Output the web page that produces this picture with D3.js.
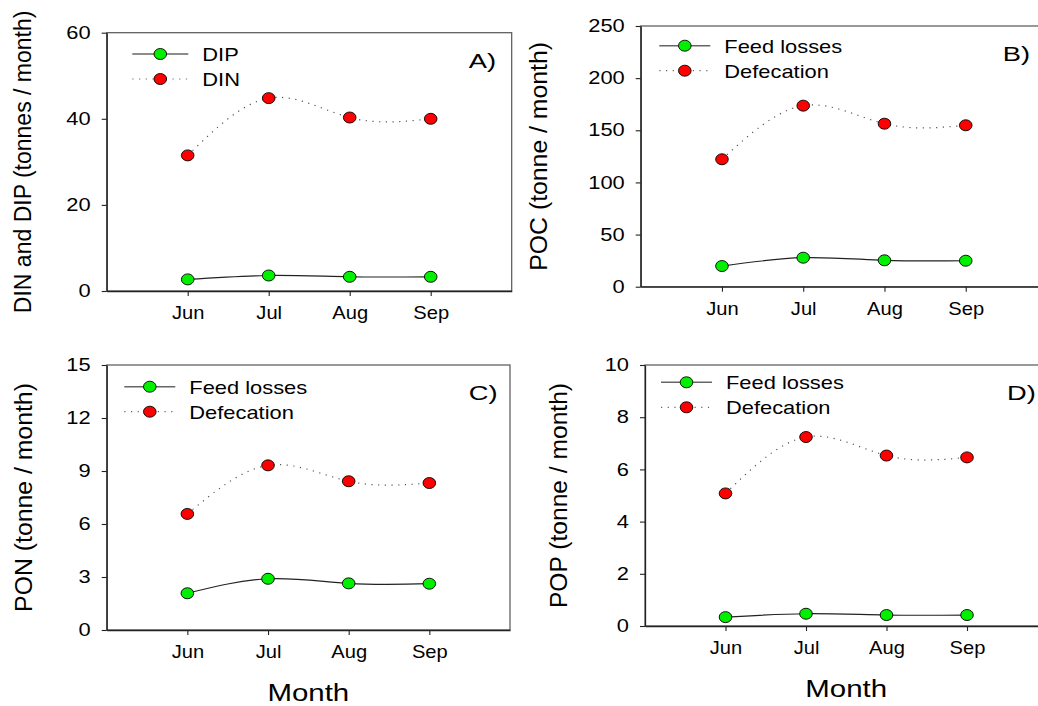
<!DOCTYPE html>
<html>
<head>
<meta charset="utf-8">
<script src="https://cdn.jsdelivr.net/npm/d3@7"></script>
<style>
  body { margin: 0; background: #fff; }
  svg { display: block; font-family: "Liberation Sans", Arial, sans-serif; }
</style>
</head>
<body>
<div id="chart"></div>
<script>
"use strict";

// data
var months = ["Jun", "Jul", "Aug", "Sep"];

var dipA = [2.7, 3.6, 3.3, 3.3];
var dinA = [31.5, 44.8, 40.3, 40.0];

var feedPOC = [19.8, 27.8, 25.3, 24.9];
var defPOC = [122.2, 173.6, 156.3, 154.8];

var feedPON = [2.08, 2.90, 2.64, 2.62];
var defPON = [6.57, 9.32, 8.42, 8.32];

var feedPOP = [0.34, 0.47, 0.42, 0.42];
var defPOP = [5.08, 7.24, 6.53, 6.46];

var ticksA = [0, 20, 40, 60];
var ticksB = [0, 50, 100, 150, 200, 250];
var ticksC = [0, 3, 6, 9, 12, 15];
var ticksD = [0, 2, 4, 6, 8, 10];

var W = 1038, H = 706;
var SX = 1.25; // the figure's text is stretched sideways

var svg = d3.select("#chart").append("svg")
    .attr("width", W)
    .attr("height", H);

var panels = [
    {left: 106.7, top: 32.7, right: 511.7, bottom: 291, max: 60, ticks: ticksA,
     s1: dipA, s2: dinA, n1: "DIP", n2: "DIN", letter: "A)",
     ylabel: "DIN and DIP (tonnes / month)", yfs: 23, ylx: 31,
     lgx: 25.6, lgy: 21.3, lgw: 56, month: false},
    {left: 640.7, top: 26, right: 1047, bottom: 286.7, max: 250, ticks: ticksB,
     s1: feedPOC, s2: defPOC, n1: "Feed losses", n2: "Defecation", letter: "B)",
     ylabel: "POC (tonne / month)", yfs: 24.8, ylx: 547,
     lgx: 18.6, lgy: 19.7, lgw: 51, month: false},
    {left: 106.7, top: 365, right: 510, bottom: 630, max: 15, ticks: ticksC,
     s1: feedPON, s2: defPON, n1: "Feed losses", n2: "Defecation", letter: "C)",
     ylabel: "PON (tonne / month)", yfs: 24.8, ylx: 32,
     lgx: 17.6, lgy: 21.7, lgw: 51, month: true},
    {left: 645, top: 365, right: 1047.5, bottom: 626, max: 10, ticks: ticksD,
     s1: feedPOP, s2: defPOP, n1: "Feed losses", n2: "Defecation", letter: "D)",
     ylabel: "POP (tonne / month)", yfs: 24.6, ylx: 567,
     lgx: 16, lgy: 17.3, lgw: 51, month: true}
];

function stretchText(sel, sx) {
    sel.each(function(){
        var t = d3.select(this);
        var x = +t.attr("x") || 0, y = +t.attr("y") || 0;
        t.attr("x", 0).attr("y", 0)
         .attr("transform", "translate(" + x + "," + y + ") scale(" + sx + ",1)");
    });
}

function marker(g, x, y, fill) {
    g.append("ellipse")
        .attr("cx", x).attr("cy", y)
        .attr("rx", 6.3).attr("ry", 5.5)
        .attr("fill", fill)
        .attr("stroke", "#000")
        .attr("stroke-width", 0.9);
}

panels.forEach(function(p){
    var g = svg.append("g");

    var x = d3.scaleLinear().domain([0, 5]).range([p.left, p.right]);
    var y = d3.scaleLinear().domain([0, p.max]).range([p.bottom, p.top]);

    // frame
    g.append("rect")
        .attr("x", p.left).attr("y", p.top)
        .attr("width", p.right - p.left).attr("height", p.bottom - p.top)
        .attr("fill", "none")
        .attr("stroke", "#555")
        .attr("stroke-width", 1.2);

    var yAxis = g.append("g")
        .attr("transform", "translate(" + p.left + ",0)")
        .call(d3.axisLeft(y).tickValues(p.ticks).tickSize(5).tickPadding(11).tickSizeOuter(0));
    yAxis.selectAll("text").attr("font-size", 17.5).attr("fill", "#000").attr("font-family", null);
    stretchText(yAxis.selectAll("text"), SX);

    var xAxis = g.append("g")
        .attr("transform", "translate(0," + p.bottom + ")")
        .call(d3.axisBottom(x).tickValues([1, 2, 3, 4]).tickSize(5).tickPadding(10.6).tickSizeOuter(0)
            .tickFormat(function(d){ return months[d - 1]; }));
    xAxis.selectAll("text").attr("font-size", 17.5).attr("fill", "#000").attr("font-family", null);
    stretchText(xAxis.selectAll("text"), 1.15);

    [yAxis, xAxis].forEach(function(a){
        a.select(".domain").attr("stroke", "#222").attr("stroke-width", 1.3);
        a.selectAll(".tick line").attr("stroke", "#222").attr("stroke-width", 1.1);
    });

    var line = d3.line()
        .x(function(d, i){ return x(i + 1); })
        .y(function(d){ return y(d); })
        .curve(d3.curveNatural);

    g.append("path")
        .attr("d", line(p.s2))
        .attr("fill", "none")
        .attr("stroke", "#555")
        .attr("stroke-width", 1.2)
        .attr("stroke-dasharray", "1.2,5.5");

    g.append("path")
        .attr("d", line(p.s1))
        .attr("fill", "none")
        .attr("stroke", "#222")
        .attr("stroke-width", 1.2);

    p.s2.forEach(function(d, i){ marker(g, x(i + 1), y(d), "#ff0000"); });
    p.s1.forEach(function(d, i){ marker(g, x(i + 1), y(d), "#00f000"); });

    // legend
    var lx = p.left + p.lgx, ly1 = p.top + p.lgy, ly2 = ly1 + 25;
    g.append("line")
        .attr("x1", lx).attr("x2", lx + p.lgw)
        .attr("y1", ly1).attr("y2", ly1)
        .attr("stroke", "#666").attr("stroke-width", 1.6);
    g.append("line")
        .attr("x1", lx).attr("x2", lx + p.lgw)
        .attr("y1", ly2).attr("y2", ly2)
        .attr("stroke", "#666").attr("stroke-width", 1.2)
        .attr("stroke-dasharray", "1.2,5.5");
    marker(g, lx + p.lgw / 2, ly1, "#00f000");
    marker(g, lx + p.lgw / 2, ly2, "#ff0000");

    var lt = g.selectAll("text.lg").data([p.n1, p.n2]).enter()
        .append("text")
            .attr("class", "lg")
            .attr("x", lx + p.lgw + 14)
            .attr("y", function(d, i){ return (i === 0 ? ly1 : ly2) + 7; })
            .attr("font-size", 17.5)
            .text(function(d){ return d; });
    stretchText(lt, SX);

    // panel letter
    var pl = g.append("text")
        .attr("x", p.left + 362)
        .attr("y", p.top + 35)
        .attr("font-size", 21)
        .text(p.letter);
    stretchText(pl, 1.3);

    // y label
    g.append("text")
        .attr("transform", "translate(" + p.ylx + "," + ((p.top + p.bottom) / 2) + ") rotate(-90)")
        .attr("text-anchor", "middle")
        .attr("font-size", p.yfs)
        .text(p.ylabel);

    if (p.month) {
        var mt = g.append("text")
            .attr("x", (p.left + p.right) / 2)
            .attr("y", p.bottom + 71)
            .attr("text-anchor", "middle")
            .attr("font-size", 23)
            .text("Month");
        stretchText(mt, 1.28);
    }
});
</script>
</body>
</html>
